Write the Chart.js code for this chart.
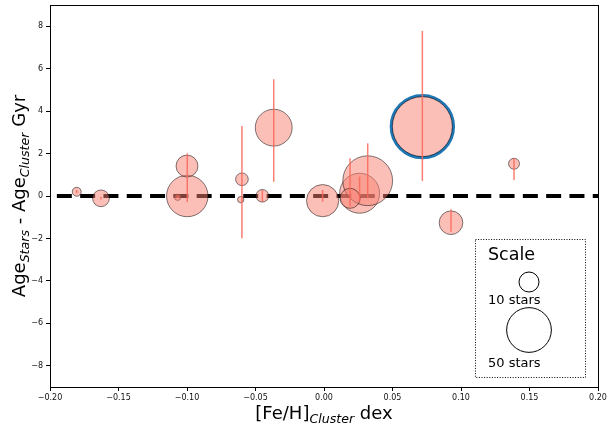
<!DOCTYPE html>
<html>
<head>
<meta charset="utf-8">
<script src="https://cdn.jsdelivr.net/npm/chart.js@4/dist/chart.umd.min.js"></script>
<style>
  html, body { margin: 0; padding: 0; background: #fff; }
  #wrap { width: 608px; height: 423px; }
</style>
</head>
<body>
<div id="wrap"><canvas id="c" width="608" height="423"></canvas></div>
<script>
// ---- data ----
const fehCluster = [-0.1805, -0.1628, -0.1068, -0.0998, -0.1000, -0.0599, -0.0608, -0.0450, -0.0367, -0.0010, 0.0260, 0.0319, 0.0190, 0.0718, 0.1387, 0.0927];
const ageDiff    = [0.20, -0.11, -0.06, 0.00, 1.41, 0.79, -0.17, 0.01, 3.22, -0.22, 0.13, 0.72, -0.11, 3.27, 1.52, -1.26];
const ageErrLow  = [0.13, -0.16, -0.10, -0.28, 1.41, -1.99, -0.17, -0.28, 0.67, -0.27, -0.27, -0.10, -0.50, 0.71, 0.75, -1.68];
const ageErrHigh = [0.28, -0.03, 0.00, 2.01, 1.41, 3.30, -0.17, 0.28, 5.50, 0.28, 0.91, 2.48, 1.78, 7.78, 1.79, -0.63];
const nStars     = [2, 7, 1, 43, 12, 4, 1, 4, 34, 26, 40, 62, 10, 90, 3, 14];
const highlightIndex = 13;
const scaleStars = [10, 50];
const scaleLabels = ['10 stars', '50 stars'];
const xTickValues = [-0.20, -0.15, -0.10, -0.05, 0.00, 0.05, 0.10, 0.15, 0.20];
const yTickValues = [-8, -6, -4, -2, 0, 2, 4, 6, 8];
const zeroLineX = [-0.195, 0.20];

const FONT = "'DejaVu Sans', sans-serif";
const starsToRadius = n => Math.sqrt(10 * n);

const bubbles = fehCluster.map((x, i) => ({ x: x, y: ageDiff[i], r: starsToRadius(nStars[i]) }));
const highlight = [{ x: fehCluster[highlightIndex], y: ageDiff[highlightIndex], r: starsToRadius(nStars[highlightIndex]) + 1.2 }];

const fmtMinus = (v, d) => (v < 0 ? '\u2212' : '') + Math.abs(v).toFixed(d);

const framePlugin = {
  id: 'frame',
  afterDatasetsDraw(chart) {
    const ctx = chart.ctx, xs = chart.scales.x, ys = chart.scales.y;
    const a = chart.chartArea;
    ctx.save();
    ctx.beginPath(); ctx.rect(a.left, a.top, a.right - a.left, a.bottom - a.top); ctx.clip();
    ctx.strokeStyle = 'rgba(248,105,90,0.85)';
    ctx.lineWidth = 1.5;
    for (let i = 0; i < fehCluster.length; i++) {
      if (ageErrHigh[i] === ageErrLow[i]) continue;
      const px = xs.getPixelForValue(fehCluster[i]);
      ctx.beginPath();
      ctx.moveTo(px, ys.getPixelForValue(ageErrLow[i]));
      ctx.lineTo(px, ys.getPixelForValue(ageErrHigh[i]));
      ctx.stroke();
    }
    ctx.restore();
  },
  afterDraw(chart) {
    const ctx = chart.ctx;
    const a = chart.chartArea;
    ctx.save();
    ctx.strokeStyle = '#000';
    ctx.lineWidth = 1;
    ctx.strokeRect(Math.round(a.left) + 0.5, Math.round(a.top) + 0.5, Math.round(a.right - a.left), Math.round(a.bottom - a.top));

    // scale legend box
    const bx = a.right - 123, by = a.bottom - 148, bw = 110, bh = 138;
    ctx.setLineDash([1, 1.6]);
    ctx.strokeRect(bx + 0.5, by + 0.5, bw, bh);
    ctx.setLineDash([]);
    ctx.fillStyle = '#000';
    ctx.textBaseline = 'alphabetic';
    ctx.textAlign = 'left';
    ctx.font = '17.5px ' + FONT;
    ctx.fillText('Scale', bx + 13, by + 21);
    const cx = bx + 54;
    const circleY = [by + 43, by + 91];
    const labelY = [by + 65, by + 128];
    ctx.font = '13px ' + FONT;
    for (let k = 0; k < scaleStars.length; k++) {
      ctx.beginPath();
      ctx.arc(cx, circleY[k], starsToRadius(scaleStars[k]), 0, Math.PI * 2);
      ctx.lineWidth = 1;
      ctx.strokeStyle = '#000';
      ctx.stroke();
      ctx.fillText(scaleLabels[k], bx + 13, labelY[k]);
    }

    const drawRich = (parts, cxp, baseY) => {
      let total = 0;
      parts.forEach(p => { ctx.font = p.font; p.w = ctx.measureText(p.t).width; total += p.w; });
      let x = cxp - total / 2;
      parts.forEach(p => { ctx.font = p.font; ctx.fillText(p.t, x, baseY + (p.dy || 0)); x += p.w; });
    };
    const big = '18px ' + FONT, sub = 'italic 12.6px ' + FONT;
    drawRich([
      { t: '[Fe/H]', font: big },
      { t: 'Cluster', font: sub, dy: 3.6 },
      { t: ' dex', font: big }
    ], (a.left + a.right) / 2, 419);

    ctx.save();
    ctx.translate(25, (a.top + a.bottom) / 2);
    ctx.rotate(-Math.PI / 2);
    drawRich([
      { t: 'Age', font: big },
      { t: 'Stars', font: sub, dy: 3.6 },
      { t: ' - Age', font: big },
      { t: 'Cluster', font: sub, dy: 3.6 },
      { t: ' Gyr', font: big }
    ], 0, 0);
    ctx.restore();
    ctx.restore();
  }
};

new Chart(document.getElementById('c'), {
  type: 'bubble',
  data: {
    datasets: [
      {
        type: 'line',
        data: zeroLineX.map(x => ({ x: x, y: 0 })),
        borderColor: '#000',
        borderWidth: 4,
        borderDash: [15, 8.3],
        pointRadius: 0,
        fill: false,
        order: 3
      },
      {
        data: highlight,
        backgroundColor: 'rgba(0,0,0,0)',
        borderColor: '#1f77b4',
        borderWidth: 3,
        order: 2
      },
      {
        data: bubbles,
        backgroundColor: 'rgba(250,128,114,0.5)',
        borderColor: 'rgba(0,0,0,0.5)',
        borderWidth: 1,
        order: 1
      }
    ]
  },
  options: {
    responsive: false,
    animation: false,
    events: [],
    clip: false,
    layout: { autoPadding: false, padding: { top: 5, right: 10, left: 0, bottom: 0 } },
    plugins: { legend: { display: false }, tooltip: { enabled: false }, title: { display: false } },
    scales: {
      x: {
        type: 'linear',
        min: -0.2, max: 0.2,
        afterBuildTicks: s => { s.ticks = xTickValues.map(v => ({ value: v })); },
        afterFit: s => { s.height = 36; s.paddingLeft = 0; s.paddingRight = 0; },
        grid: { display: true, drawOnChartArea: false, drawTicks: true, tickLength: 4, tickColor: '#000', tickWidth: 1 },
        border: { display: false },
        ticks: { color: '#111', font: { family: FONT, size: 8 }, padding: 2, maxRotation: 0, autoSkip: false,
                 callback: v => fmtMinus(v, 2) }
      },
      y: {
        type: 'linear',
        min: -9, max: 9,
        afterBuildTicks: s => { s.ticks = yTickValues.map(v => ({ value: v })); },
        afterFit: s => { s.width = 50; s.paddingTop = 0; s.paddingBottom = 0; },
        grid: { display: true, drawOnChartArea: false, drawTicks: true, tickLength: 4, tickColor: '#000', tickWidth: 1 },
        border: { display: false },
        ticks: { color: '#111', font: { family: FONT, size: 8 }, padding: 3, autoSkip: false,
                 callback: v => fmtMinus(v, 0) }
      }
    }
  },
  plugins: [framePlugin]
});
</script>
</body>
</html>
